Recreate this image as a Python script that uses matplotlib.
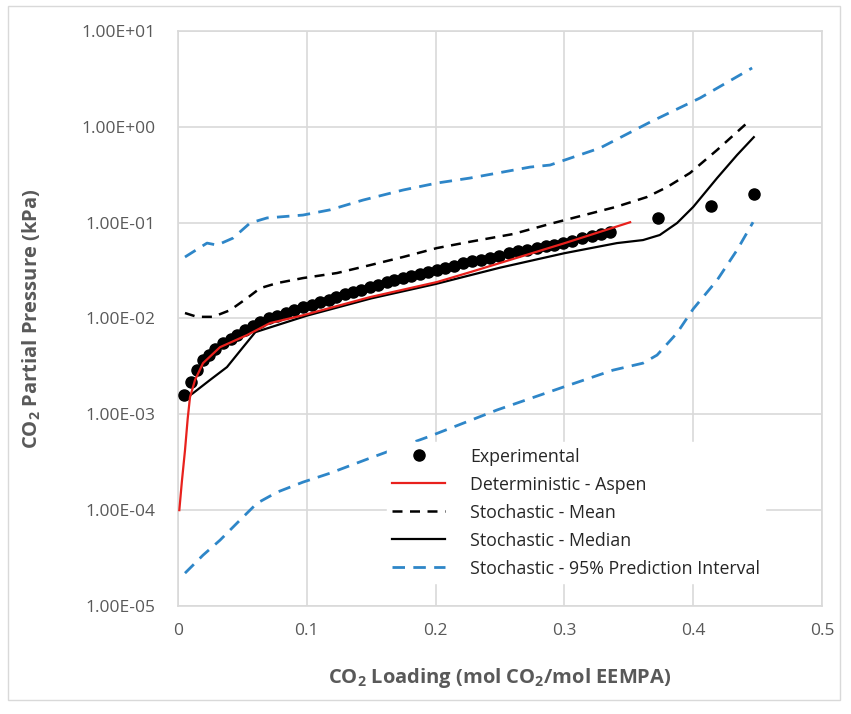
import matplotlib
import matplotlib.pyplot as plt
from matplotlib.patches import Rectangle

matplotlib.use("agg")

plt.rcParams["font.family"] = ["Open Sans", "DejaVu Sans"]
plt.rcParams["mathtext.fontset"] = "custom"
plt.rcParams["mathtext.rm"] = "Open Sans"
plt.rcParams["mathtext.bf"] = "Open Sans:bold"

# experimental data (loading, kPa)
exp_x = [0.005, 0.010, 0.0145, 0.019, 0.024, 0.029, 0.035, 0.041, 0.046, 0.052,
         0.058, 0.064, 0.071, 0.077, 0.084, 0.090, 0.097, 0.104, 0.110, 0.117,
         0.123, 0.130, 0.136, 0.142, 0.149, 0.155, 0.162, 0.168, 0.175, 0.181,
         0.188, 0.194, 0.201, 0.207, 0.214, 0.221, 0.228, 0.235, 0.242, 0.249,
         0.257, 0.264, 0.271, 0.279, 0.286, 0.292, 0.299, 0.306, 0.314, 0.321,
         0.328, 0.335, 0.373, 0.414, 0.447]
exp_y = [1.58e-3, 2.18e-3, 2.89e-3, 3.68e-3, 4.2e-3, 4.8e-3, 5.5e-3, 6.1e-3, 6.7e-3, 7.5e-3,
         8.4e-3, 9.1e-3, 1.0e-2, 1.07e-2, 1.15e-2, 1.23e-2, 1.31e-2, 1.39e-2, 1.48e-2, 1.57e-2,
         1.67e-2, 1.78e-2, 1.89e-2, 2.0e-2, 2.13e-2, 2.25e-2, 2.38e-2, 2.51e-2, 2.64e-2, 2.77e-2,
         2.91e-2, 3.05e-2, 3.20e-2, 3.35e-2, 3.55e-2, 3.79e-2, 3.95e-2, 4.1e-2, 4.27e-2, 4.5e-2,
         4.8e-2, 5.0e-2, 5.2e-2, 5.43e-2, 5.7e-2, 5.9e-2, 6.12e-2, 6.5e-2, 6.9e-2, 7.2e-2,
         7.6e-2, 7.98e-2, 0.112, 0.149, 0.199]

# deterministic - Aspen
aspen_x = [0.001, 0.003, 0.0054, 0.0075, 0.0093, 0.0132, 0.0194, 0.0326, 0.0536, 0.0714,
           0.097, 0.149, 0.201, 0.227, 0.30, 0.351]
aspen_y = [1.0e-4, 2.0e-4, 4.2e-4, 9.0e-4, 1.51e-3, 2.28e-3, 3.42e-3, 5.02e-3, 6.71e-3, 8.95e-3,
           1.08e-2, 1.67e-2, 2.40e-2, 3.05e-2, 6.1e-2, 0.101]

# stochastic - mean
mean_x = [0.0054, 0.0148, 0.0272, 0.0404, 0.0536, 0.0637, 0.0769, 0.097, 0.1234, 0.149,
          0.1747, 0.201, 0.2267, 0.26, 0.29, 0.34, 0.364, 0.3797, 0.3975, 0.4185, 0.4425]
mean_y = [1.14e-2, 1.04e-2, 1.04e-2, 1.22e-2, 1.63e-2, 2.07e-2, 2.34e-2, 2.64e-2, 2.98e-2, 3.60e-2,
          4.38e-2, 5.43e-2, 6.32e-2, 7.6e-2, 9.8e-2, 0.146, 0.185, 0.235, 0.33, 0.573, 1.12]

# stochastic - median
med_x = [0.0062, 0.0116, 0.0248, 0.038, 0.0505, 0.06, 0.10, 0.15, 0.20, 0.25,
         0.30, 0.3408, 0.361, 0.374, 0.3874, 0.400, 0.4185, 0.434, 0.447]
med_y = [1.48e-3, 1.66e-3, 2.28e-3, 3.11e-3, 5.02e-3, 7.2e-3, 1.07e-2, 1.62e-2, 2.29e-2, 3.39e-2,
         4.8e-2, 6.12e-2, 6.58e-2, 7.43e-2, 9.9e-2, 0.146, 0.292, 0.508, 0.78]

# stochastic - 95% prediction interval
pi_up_x = [0.0054, 0.0225, 0.0303, 0.0427, 0.0559, 0.0691, 0.097, 0.118, 0.1436, 0.1747,
           0.201, 0.2267, 0.2733, 0.2888, 0.3276, 0.3665, 0.4053, 0.4457]
pi_up_y = [4.38e-2, 6.12e-2, 5.83e-2, 6.90e-2, 9.91e-2, 0.112, 0.120, 0.136, 0.172, 0.219,
           0.259, 0.292, 0.380, 0.399, 0.601, 1.12, 2.0, 4.11]
pi_lo_x = [0.0054, 0.0194, 0.0326, 0.0481, 0.0613, 0.0769, 0.097, 0.118, 0.149, 0.1957,
           0.2477, 0.2989, 0.3377, 0.361, 0.3719, 0.3874, 0.400, 0.4185, 0.434, 0.4464]
pi_lo_y = [2.2e-5, 3.39e-5, 4.86e-5, 7.87e-5, 1.18e-4, 1.54e-4, 1.96e-4, 2.43e-4, 3.49e-4, 5.92e-4,
           1.11e-3, 1.92e-3, 2.89e-3, 3.42e-3, 4.15e-3, 7.05e-3, 1.26e-2, 2.51e-2, 5.18e-2, 0.101]

x_ticks = [0, 0.1, 0.2, 0.3, 0.4, 0.5]
x_labels = ["0", "0.1", "0.2", "0.3", "0.4", "0.5"]
y_ticks = [1e-5, 1e-4, 1e-3, 1e-2, 1e-1, 1e0, 1e1]

grey = "#595959"
blue = "#2e86c8"

fig = plt.figure(figsize=(8.51, 7.14), dpi=100)
ax = fig.add_axes([0.2092, 0.1513, 0.7568, 0.8053])

ax.plot(exp_x, exp_y, "o", color="black", markersize=8, label="Experimental", zorder=5)
ax.plot(aspen_x, aspen_y, color="#e8211d", lw=1.6, label="Deterministic - Aspen", zorder=6)
ax.plot(mean_x, mean_y, color="black", lw=1.8, ls=(0, (4, 3)), label="Stochastic - Mean", zorder=4)
ax.plot(med_x, med_y, color="black", lw=1.6, label="Stochastic - Median", zorder=4)
ax.plot(pi_up_x, pi_up_y, color=blue, lw=2.0, ls=(0, (4.5, 3)),
        label="Stochastic - 95% Prediction Interval", zorder=3)
ax.plot(pi_lo_x, pi_lo_y, color=blue, lw=2.0, ls=(0, (4.5, 3)), zorder=3)

ax.set_yscale("log")
ax.set_xlim(0, 0.5)
ax.set_ylim(1e-5, 1e1)
ax.set_xticks(x_ticks)
ax.set_xticklabels(x_labels)
ax.set_yticks(y_ticks)
ax.set_yticklabels(["{:.2E}".format(v) for v in y_ticks])
ax.yaxis.set_minor_locator(matplotlib.ticker.NullLocator())
ax.tick_params(length=0, colors=grey, labelsize=12.5, pad=16)
ax.tick_params(axis="x", pad=12)

ax.grid(True, color="#d9d9d9", lw=1.2)
ax.set_axisbelow(True)
for s in ax.spines.values():
    s.set_color("#d9d9d9")
    s.set_linewidth(1.2)

ax.set_xlabel(r"CO$_\mathbf{2}$ Loading (mol CO$_\mathbf{2}$/mol EEMPA)",
              fontsize=14.5, fontweight="bold", color=grey, labelpad=20)
ax.set_ylabel(r"CO$_\mathbf{2}$ Partial Pressure (kPa)",
              fontsize=14.5, fontweight="bold", color=grey, labelpad=28)

leg = ax.legend(loc="upper left", bbox_to_anchor=(0.31, 0.300), frameon=True,
                fontsize=12.8, handlelength=3.0, handletextpad=1.4, labelspacing=0.56,
                borderpad=0.3)
leg.get_frame().set_edgecolor("white")
leg.get_frame().set_facecolor("white")
leg.get_frame().set_alpha(1)
for t in leg.get_texts():
    t.set_color("#262626")

fig.patches.append(Rectangle((0.009, 0.02), 0.978, 0.972, transform=fig.transFigure,
                             fill=False, edgecolor="#d9d9d9", lw=1.0))

plt.savefig("out.png", format="png")
